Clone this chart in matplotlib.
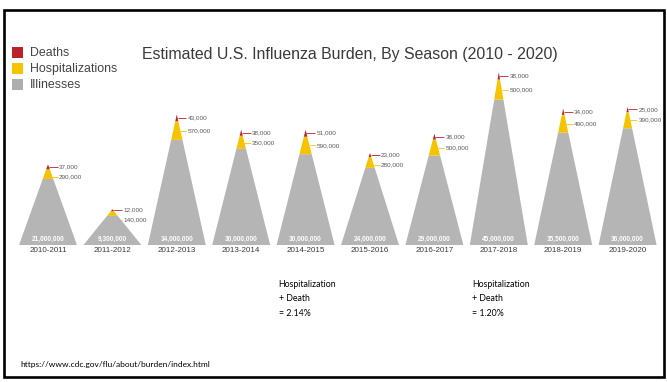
#!/usr/bin/env python3
"""Estimated U.S. influenza burden by season, drawn as stacked cones."""
import matplotlib
matplotlib.use('Agg')
import matplotlib.pyplot as plt
from matplotlib.patches import Polygon, Rectangle
import numpy as np

seasons = ['2010-2011', '2011-2012', '2012-2013', '2013-2014', '2014-2015',
           '2015-2016', '2016-2017', '2017-2018', '2018-2019', '2019-2020']
illnesses = [21000000, 9300000, 34000000, 30000000, 30000000,
             24000000, 29000000, 45000000, 35500000, 36000000]
hospitalizations = [290000, 140000, 570000, 350000, 590000,
                    280000, 500000, 500000, 490000, 390000]
deaths = [37000, 12000, 43000, 38000, 51000,
          23000, 38000, 38000, 34000, 25000]

# seasons that get a "hospitalization + death" share note underneath
noted_seasons = ['2014-2015', '2017-2018']

source_url = 'https://www.cdc.gov/flu/about/burden/index.html'

RED = '#b8222a'
YELLOW = '#f6c300'
GRAY = '#b5b5b5'

W, H = 667, 382
DPI = 100


def px(x, y):
    """pixel position (from top-left) -> figure fraction"""
    return x / W, 1 - y / H


fig = plt.figure(figsize=(W / DPI, H / DPI), dpi=DPI)
fig.patch.set_facecolor('white')

# outer frame
fig.add_artist(Rectangle(px(4, 377), 660 / W, 367 / H, fill=False,
                         lw=1.9, edgecolor='black', transform=fig.transFigure))

# data axes: one unit per season, y in people
step = 64.4
first = 48
base_y = 245
ymax = 50e6
ypx = 192
ax = fig.add_axes([(first - 0.5 * step) / W, (H - base_y) / H,
                   10 * step / W, ypx / H])
ax.set_xlim(-0.5, 9.5)
ax.set_ylim(0, ymax)
ax.patch.set_alpha(0)
for s in ax.spines.values():
    s.set_visible(False)
ax.set_yticks([])
ax.set_xticks(range(len(seasons)))
ax.set_xticklabels(seasons, fontsize=5.8, color='#3a3a3a',
                   fontfamily='Liberation Sans')
ax.tick_params(axis='x', length=0, pad=1.5)

half = 0.45        # half of the cone base, in season units
tip_scale = 1.45   # exaggerates the tip so small shares stay visible


def cone_piece(i, top, y0, y1):
    w0 = half * (1 - y0 / top)
    w1 = half * (1 - y1 / top)
    return [(i - w0, y0), (i + w0, y0), (i + w1, y1), (i - w1, y1)]


for i, (ill, hosp, dth) in enumerate(zip(illnesses, hospitalizations, deaths)):
    t_hd = tip_scale * ill * np.sqrt((hosp + dth) / ill)
    t_d = tip_scale * ill * np.sqrt(dth / ill)
    y_h = ill - t_hd
    y_d = ill - t_d
    ax.add_patch(Polygon(cone_piece(i, ill, 0, y_h), closed=True,
                         facecolor=GRAY, edgecolor='none'))
    ax.add_patch(Polygon(cone_piece(i, ill, y_h, y_d), closed=True,
                         facecolor=YELLOW, edgecolor='none'))
    ax.add_patch(Polygon(cone_piece(i, ill, y_d, ill), closed=True,
                         facecolor=RED, edgecolor='none'))

    # illness count printed on the base
    ax.text(i, 1.6e6, f'{ill:,}', ha='center', va='center', color='white',
            fontsize=4.7, fontweight='bold', fontfamily='Liberation Sans')

    # death and hospitalization callouts to the right of the tip
    lab_x = i + 0.17
    yd_lab = ill - 0.5 * t_d
    yh_lab = min(y_h + 0.5 * (y_d - y_h), yd_lab - 2.6e6)
    for y, val, col in ((yd_lab, dth, RED), (yh_lab, hosp, YELLOW)):
        edge = i + half * (1 - y / ill)
        ax.plot([edge, lab_x - 0.02], [y, y], color=col, lw=0.6,
                solid_capstyle='butt')
        ax.text(lab_x, y, f'{val:,}', ha='left', va='center', color='#5a5a5a',
                fontsize=4.6, fontfamily='Liberation Sans')

# share notes below the chosen seasons
for name in noted_seasons:
    k = seasons.index(name)
    pct = (hospitalizations[k] + deaths[k]) / illnesses[k] * 100
    note = f'Hospitalization\n+ Death\n= {pct:.2f}%'
    ax.text(k - 0.42, -9.0e6, note, ha='left', va='top', fontsize=6.3,
            color='black', fontfamily='Lato', linespacing=1.8)

# title and legend
fig.text(*px(142, 55), 'Estimated U.S. Influenza Burden, By Season (2010 - 2020)',
         ha='left', va='center', fontsize=11.4, color='#3a3a3a',
         fontfamily='Liberation Sans')

legend_items = [('Deaths', RED), ('Hospitalizations', YELLOW), ('Illinesses', '#aeaeae')]
for j, (name, col) in enumerate(legend_items):
    yc = 52.5 + 16.2 * j
    fig.add_artist(Rectangle(px(12, yc + 5.5), 11 / W, 11 / H, facecolor=col,
                             edgecolor='none', transform=fig.transFigure))
    fig.text(*px(30, yc), name, ha='left', va='center', fontsize=8.9,
             color='#444444', fontfamily='Liberation Sans')

fig.text(*px(20, 364), source_url, ha='left', va='center', fontsize=6.0,
         color='black', fontfamily='Lato')

fig.savefig('out.png', dpi=DPI, facecolor='white')
